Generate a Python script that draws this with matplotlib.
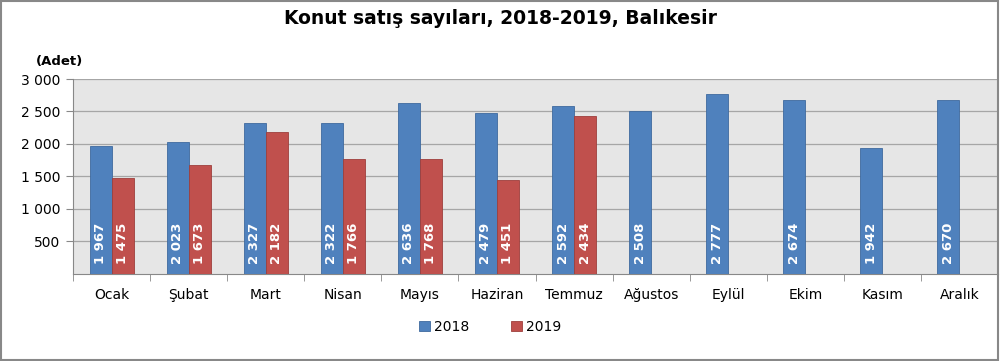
import matplotlib.pyplot as plt
import numpy as np
from matplotlib.patches import Rectangle

months = ['Ocak', 'Şubat', 'Mart', 'Nisan', 'Mayıs', 'Haziran', 'Temmuz',
          'Ağustos', 'Eylül', 'Ekim', 'Kasım', 'Aralık']
sales_2018 = [1967, 2023, 2327, 2322, 2636, 2479, 2592, 2508, 2777, 2674, 1942, 2670]
sales_2019 = [1475, 1673, 2182, 1766, 1768, 1451, 2434]
yticks = [500, 1000, 1500, 2000, 2500, 3000]

def fmt(v):
    return f'{v:,}'.replace(',', ' ')

plt.rcParams['font.family'] = ['DejaVu Sans']
fig = plt.figure(figsize=(10, 3.61), dpi=100)
ax = fig.add_axes([0.073, 0.242, 0.925, 0.539])

blue = '#4F81BD'
red = '#C0504D'
w = 0.285
x = np.arange(len(months))
x19 = np.arange(len(sales_2019))
b1 = ax.bar(x - w / 2, sales_2018, w, color=blue, edgecolor='#3F6A9E',
            linewidth=0.6, label='2018', zorder=3)
b2 = ax.bar(x19 + w / 2, sales_2019, w, color=red, edgecolor='#9E3F3C',
            linewidth=0.6, label='2019', zorder=3)

for bars, vals in ((b1, sales_2018), (b2, sales_2019)):
    for rect, v in zip(bars, vals):
        ax.text(rect.get_x() + rect.get_width() / 2, 150, fmt(v), rotation=90,
                ha='center', va='bottom', color='white', fontsize=9.5,
                fontweight='bold', zorder=4)

ax.set_xlim(-0.5, len(months) - 0.5)
ax.set_ylim(0, 3000)
ax.set_facecolor('#E6E6E6')
ax.set_yticks(yticks)
ax.set_yticklabels([fmt(v) for v in yticks], fontsize=10)
ax.yaxis.grid(True, color='#A6A6A6', linewidth=0.9, zorder=0)
ax.set_xticks(x)
ax.set_xticklabels(months, fontsize=10)
ax.set_xticks(np.arange(-0.5, len(months)), minor=True)
ax.tick_params(axis='x', which='major', length=0, pad=10)
ax.tick_params(axis='x', which='minor', length=5, color='#888888')
ax.tick_params(axis='y', length=5, color='#888888', pad=4)
for s in ['top', 'right']:
    ax.spines[s].set_visible(False)
for s in ['left', 'bottom']:
    ax.spines[s].set_color('#888888')

fig.text(0.5, 0.95, 'Konut satış sayıları, 2018-2019, Balıkesir', ha='center',
         va='center', fontsize=13.5, fontweight='bold')
fig.text(0.036, 0.83, '(Adet)', ha='left', va='center', fontsize=9.5, fontweight='bold')

fig.legend(handles=[b1, b2], loc='center', bbox_to_anchor=(0.49, 0.095), ncol=2,
           frameon=False, fontsize=10, handlelength=0.8, handleheight=0.8,
           columnspacing=3, handletextpad=0.3)

fig.patches.append(Rectangle((0.001, 0.002), 0.997, 0.995, transform=fig.transFigure,
                             fill=False, edgecolor='#888888', linewidth=1.5))

fig.savefig('out.png', dpi=100)
